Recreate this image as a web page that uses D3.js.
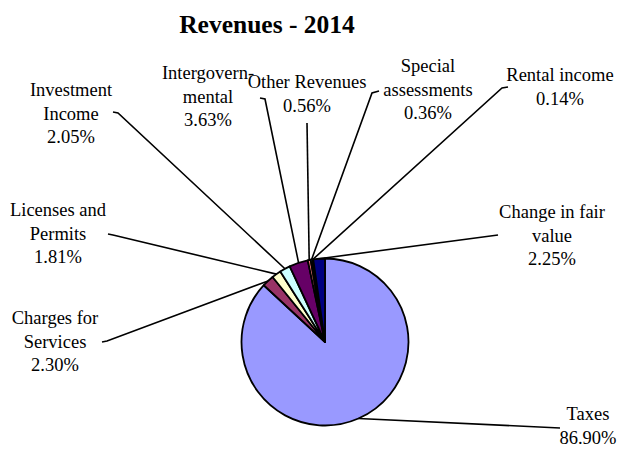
<!DOCTYPE html>
<html><head><meta charset="utf-8">
<script src="https://cdn.jsdelivr.net/npm/d3@7"></script>
<style>body{margin:0;background:#fff}svg{display:block}text{font-family:'Liberation Serif','Times New Roman',serif}</style>
</head><body>
<svg id="c" width="617" height="451"></svg>
<script>
const categories = ["Taxes","Charges for Services","Licenses and Permits","Investment Income","Intergovernmental","Other Revenues","Special assessments","Rental income","Change in fair value"];
const values = [86.90, 2.30, 1.81, 2.05, 3.63, 0.56, 0.36, 0.14, 2.25];
const labelLines = [["Taxes"],["Charges for","Services"],["Licenses and","Permits"],["Investment","Income"],["Intergovern-","mental"],["Other Revenues"],["Special","assessments"],["Rental income"],["Change in fair","value"]];
const colors = ["#9999FF","#993366","#FFFFCC","#CCFFFF","#660066","#FF8080","#0066CC","#CCCCFF","#000080"];

// layout: label centre x, first line centre y, leader start points (label side)
const labelPos = [
  {x:588,y:414,lead:[[560,428]]},
  {x:55,y:318,lead:[[102,342],[107,341]]},
  {x:58,y:210,lead:[[108,234],[113,235]]},
  {x:71,y:90,lead:[[113,112],[118,113]]},
  {x:208,y:73,lead:[[260,98],[265,99]]},
  {x:307,y:82,lead:[[307,123]]},
  {x:428,y:66,lead:[[379,91],[372,93]]},
  {x:560,y:75,lead:[[508,87],[502,88]]},
  {x:552,y:212,lead:[[498,235]]}
];

const cx=325, cy=342, r=83.5, lineH=23.5, fs=18.5;
const svg = d3.select("#c");
svg.append("text").attr("x",267).attr("y",33).attr("text-anchor","middle")
  .attr("font-weight","bold").attr("font-size",25.5).text("Revenues - 2014");

const pie = d3.pie().sort(null).value(d=>d)(values);
const arc = d3.arc().innerRadius(0).outerRadius(r);
const g = svg.append("g").attr("transform",`translate(${cx},${cy})`);

// leader lines
pie.forEach((p,i)=>{
  const a=(p.startAngle+p.endAngle)/2;
  const end=[cx+r*Math.sin(a), cy-r*Math.cos(a)];
  const pts=labelPos[i].lead.concat([end]);
  svg.append("path").attr("d",d3.line()(pts)).attr("fill","none")
    .attr("stroke","#000").attr("stroke-width",1.6);
});

g.selectAll("path.s").data(pie).join("path").attr("class","s")
  .attr("d",arc).attr("fill",(d,i)=>colors[i])
  .attr("stroke","#000").attr("stroke-width",1.8).attr("stroke-linejoin","round");

// labels
labelPos.forEach((lp,i)=>{
  const lines = labelLines[i].concat([values[i].toFixed(2)+"%"]);
  const t = svg.append("text").attr("text-anchor","middle")
    .attr("font-size",fs).attr("fill","#000");
  lines.forEach((l,k)=>{
    t.append("tspan").attr("x",lp.x).attr("y",lp.y+k*lineH).attr("dy","0.35em").text(l);
  });
});
</script>
</body></html>
